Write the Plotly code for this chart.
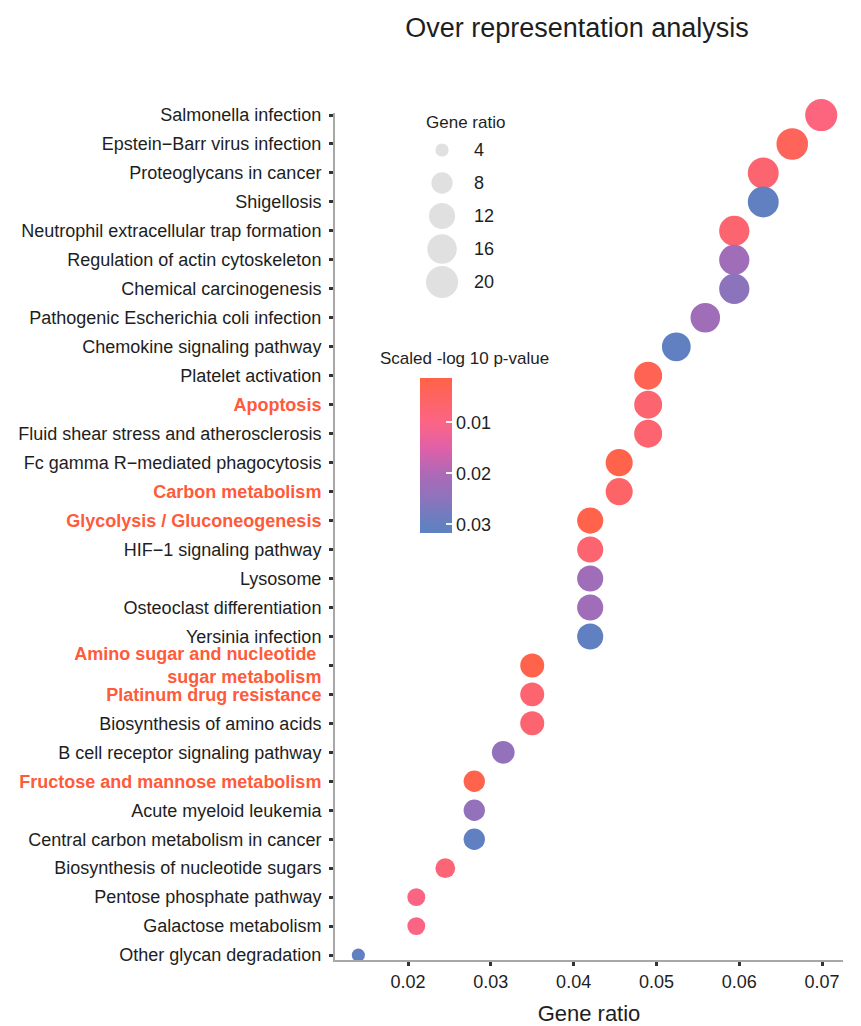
import math
import plotly.graph_objects as go

# ---------------- data ----------------
pathways = [
    "Salmonella infection", "Epstein\u2212Barr virus infection", "Proteoglycans in cancer",
    "Shigellosis", "Neutrophil extracellular trap formation", "Regulation of actin cytoskeleton",
    "Chemical carcinogenesis", "Pathogenic Escherichia coli infection", "Chemokine signaling pathway",
    "Platelet activation", "Apoptosis", "Fluid shear stress and atherosclerosis",
    "Fc gamma R\u2212mediated phagocytosis", "Carbon metabolism", "Glycolysis / Gluconeogenesis",
    "HIF\u22121 signaling pathway", "Lysosome", "Osteoclast differentiation", "Yersinia infection",
    "Amino sugar and nucleotide sugar metabolism", "Platinum drug resistance",
    "Biosynthesis of amino acids", "B cell receptor signaling pathway",
    "Fructose and mannose metabolism", "Acute myeloid leukemia",
    "Central carbon metabolism in cancer", "Biosynthesis of nucleotide sugars",
    "Pentose phosphate pathway", "Galactose metabolism", "Other glycan degradation",
]
gene_ratio = [0.0699, 0.0664, 0.0629, 0.0629, 0.0594, 0.0594, 0.0594, 0.0559, 0.0524,
              0.0490, 0.0490, 0.0490, 0.0455, 0.0455, 0.0420, 0.0420, 0.0420, 0.0420, 0.0420,
              0.0350, 0.0350, 0.0350, 0.0315, 0.0280, 0.0280, 0.0280, 0.0245,
              0.0210, 0.0210, 0.0140]
gene_count = [20, 19, 18, 18, 17, 17, 17, 16, 15, 14, 14, 14, 13, 13, 12, 12, 12, 12, 12,
              10, 10, 10, 9, 8, 8, 8, 7, 6, 6, 4]
p_value = [0.009, 0.004, 0.007, 0.031, 0.007, 0.022, 0.025, 0.022, 0.031, 0.003,
           0.007, 0.007, 0.002, 0.006, 0.002, 0.007, 0.022, 0.022, 0.031,
           0.002, 0.007, 0.007, 0.024, 0.002, 0.024, 0.031, 0.008, 0.010, 0.010, 0.031]
highlighted = ["Apoptosis", "Carbon metabolism", "Glycolysis / Gluconeogenesis",
               "Amino sugar and nucleotide sugar metabolism", "Platinum drug resistance",
               "Fructose and mannose metabolism"]
size_legend_values = [4, 8, 12, 16, 20]
colorbar_ticks = [0.01, 0.02, 0.03]
x_ticks = [0.02, 0.03, 0.04, 0.05, 0.06, 0.07]

# ---------------- style ----------------
FONT = "Liberation Sans, Arial, sans-serif"
TXT = "#1e1e1e"
HIL = "#ff5a3a"
# colour axis runs on -p so that small p-values (red) sit at the top of the bar
colorscale = [[0.0, "#5f80c2"], [0.06, "#6480c0"], [0.22, "#8c74bc"], [0.38, "#ad69b6"],
              [0.55, "#e060a8"], [0.71, "#fb6585"], [1.0, "#ff6347"]]
P_LO, P_HI = 0.0013, 0.0317

L, R, T, B = 335, 18, 113, 66
W, H = 861, 1026
PW, PH = W - L - R, H - T - B


def px_x(px):
    return (px - L) / PW


def px_y(py):
    return (T + PH - py) / PH


def diam(c):
    return 11.8 * math.log(c) - 3.2


def label(name):
    txt = name
    if name == "Amino sugar and nucleotide sugar metabolism":
        txt = "Amino sugar and nucleotide <br>sugar metabolism"
    if name in highlighted:
        return f"<b><span style='color:{HIL}'>{txt}</span></b>"
    return txt


fig = go.Figure()

fig.add_trace(go.Scatter(
    x=gene_ratio, y=pathways, mode="markers",
    customdata=p_value,
    marker=dict(
        size=[diam(c) for c in gene_count], sizemode="diameter",
        color=[-p for p in p_value], colorscale=colorscale, cmin=-P_HI, cmax=-P_LO,
        line=dict(width=0), opacity=1,
        colorbar=dict(
            x=px_x(420), xanchor="left", xref="paper",
            y=px_y(455.5), yanchor="middle",
            thickness=32, thicknessmode="pixels",
            len=155, lenmode="pixels",
            xpad=0, ypad=0, outlinewidth=0,
            tickmode="array", tickvals=[-v for v in colorbar_ticks],
            ticktext=[f"{v:.2f}" for v in colorbar_ticks],
            ticks="inside", ticklen=6, tickcolor="rgba(255,255,255,0.9)", tickwidth=1.5,
            tickfont=dict(family=FONT, size=18, color=TXT),
        ),
    ),
    cliponaxis=False, showlegend=False,
    hovertemplate="%{y}<br>Gene ratio %{x}<br>p %{customdata}<extra></extra>",
))

# size legend (separate small axes)
fig.add_trace(go.Scatter(
    x=[0.14] * len(size_legend_values), y=list(range(len(size_legend_values))),
    mode="markers", xaxis="x2", yaxis="y2",
    marker=dict(size=[diam(v) for v in size_legend_values], sizemode="diameter",
                color="#d3d3d3", line=dict(width=0)),
    showlegend=False, hoverinfo="skip", cliponaxis=False,
))

annotations = []
for i, v in enumerate(size_legend_values):
    annotations.append(dict(x=0.41, y=i, xref="x2", yref="y2", text=str(v), showarrow=False,
                            xanchor="left", yanchor="middle",
                            font=dict(family=FONT, size=18, color=TXT)))
annotations.append(dict(x=px_x(424), y=px_y(122), xref="paper", yref="paper",
                        text="Gene ratio", showarrow=False, xanchor="left", yanchor="middle",
                        font=dict(family=FONT, size=17, color=TXT)))
annotations.append(dict(x=px_x(378), y=px_y(358), xref="paper", yref="paper",
                        text="Scaled -log 10 p-value", showarrow=False, xanchor="left",
                        yanchor="middle", font=dict(family=FONT, size=17, color=TXT)))

fig.update_layout(
    width=W, height=H,
    margin=dict(l=L, r=R, t=T, b=B, autoexpand=False),
    paper_bgcolor="white", plot_bgcolor="white",
    title=dict(text="Over representation analysis", x=577 / W, xanchor="center",
               y=1 - 28 / H, yanchor="middle", yref="container", automargin=False,
               font=dict(family=FONT, size=27, color=TXT)),
    xaxis=dict(
        range=[0.01118, 0.07253], tickmode="array", tickvals=x_ticks,
        ticktext=[f"{v:.2f}" for v in x_ticks], automargin=False,
        showgrid=False, zeroline=False, showline=True, linecolor="#a8a8a8", linewidth=2,
        ticks="outside", ticklen=4, tickwidth=3, tickcolor="#333333",
        tickfont=dict(family=FONT, size=18, color=TXT),
        title=dict(text="Gene ratio", standoff=22, font=dict(family=FONT, size=22, color=TXT)),
    ),
    yaxis=dict(
        type="category", categoryorder="array", categoryarray=pathways[::-1],
        range=[-0.17, 29.07], tickmode="array", tickvals=pathways,
        ticktext=[label(p) for p in pathways], automargin=False,
        showgrid=False, zeroline=False, showline=True, linecolor="#a8a8a8", linewidth=2,
        ticks="outside", ticklen=4, tickwidth=3, tickcolor="#333333",
        ticklabelstandoff=4,
        tickfont=dict(family=FONT, size=18, color=TXT),
    ),
    xaxis2=dict(domain=[px_x(426.4), px_x(538.2)], range=[0, 1],
                visible=False, anchor="y2", fixedrange=True),
    yaxis2=dict(domain=[px_y(298.5), px_y(133.5)], range=[4.5, -0.5],
                visible=False, anchor="x2", fixedrange=True),
    annotations=annotations,
)

fig.write_html(
    "out.html",
    config={"displayModeBar": False},
    post_script="document.body.style.margin='0';document.body.style.overflow='hidden';",
)
